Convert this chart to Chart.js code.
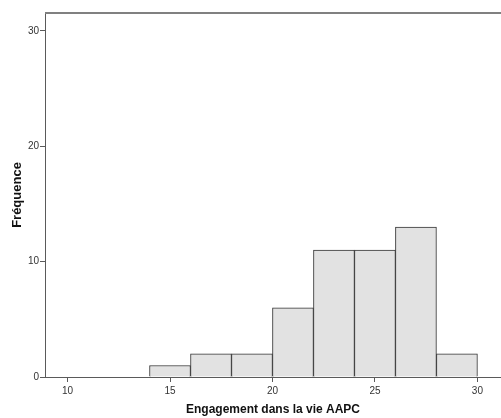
<!DOCTYPE html>
<html>
<head>
<meta charset="utf-8">
<script src="https://cdn.jsdelivr.net/npm/chart.js@4/dist/chart.umd.min.js"></script>
<style>
  html, body { margin: 0; padding: 0; background: #fff; }
  #wrap { width: 501px; height: 418px; }
</style>
</head>
<body>
<div id="wrap"><canvas id="histo" width="501" height="418"></canvas></div>
<script>
// Histogramme : classes de largeur 2
const binCenters = [15, 17, 19, 21, 23, 25, 27, 29];
const frequences = [1, 2, 2, 6, 11, 11, 13, 2];
const xTicks = [10, 15, 20, 25, 30];
const yTicks = [0, 10, 20, 30];

const axisColor = '#5a5a5a';
const textColor = '#333333';

// ligne du haut du cadre (style SPSS)
const cadreHaut = {
    id: 'cadreHaut',
    afterDraw(chart) {
        const { ctx, chartArea } = chart;
        ctx.save();
        ctx.strokeStyle = '#808080';
        ctx.lineWidth = 2;
        ctx.beginPath();
        ctx.moveTo(chartArea.left, chartArea.top);
        ctx.lineTo(chartArea.right, chartArea.top);
        ctx.stroke();
        ctx.restore();
    }
};

new Chart(document.getElementById('histo'), {
    type: 'bar',
    data: {
        datasets: [{
            data: binCenters.map((c, i) => ({ x: c, y: frequences[i] })),
            backgroundColor: '#e2e2e2',
            borderColor: '#333333',
            borderWidth: 1,
            barPercentage: 1,
            categoryPercentage: 1
        }]
    },
    options: {
        responsive: false,
        animation: false,
        layout: { padding: { top: 13, right: 0, left: 0, bottom: 0 } },
        plugins: { legend: { display: false }, tooltip: { enabled: false } },
        scales: {
            x: {
                type: 'linear',
                offset: false,
                min: 8.9,
                max: 31.15,
                afterBuildTicks: s => { s.ticks = xTicks.map(v => ({ value: v })); },
                afterFit: s => { s.height = 41; },
                grid: { drawOnChartArea: false, offset: false, tickLength: 5, color: axisColor },
                border: { color: axisColor, width: 1 },
                ticks: {
                    padding: 3,
                    color: textColor,
                    font: { family: 'Liberation Sans, Arial, sans-serif', size: 10 },
                    maxRotation: 0
                },
                title: {
                    display: true,
                    text: 'Engagement dans la vie AAPC',
                    color: '#111',
                    font: { family: 'Liberation Sans, Arial, sans-serif', size: 12, weight: 'bold' },
                    padding: { top: 0, bottom: 1 }
                }
            },
            y: {
                min: 0,
                max: 31.56,
                afterBuildTicks: s => { s.ticks = yTicks.map(v => ({ value: v })); },
                afterFit: s => { s.width = 45; },
                grid: { drawOnChartArea: false, tickLength: 5, color: axisColor },
                border: { color: axisColor, width: 1 },
                ticks: {
                    padding: 1,
                    color: textColor,
                    font: { family: 'Liberation Sans, Arial, sans-serif', size: 10 }
                },
                title: {
                    display: true,
                    text: 'Fréquence',
                    color: '#111',
                    font: { family: 'Liberation Sans, Arial, sans-serif', size: 13, weight: 'bold' },
                    padding: { top: 10, bottom: 0 }
                }
            }
        }
    },
    plugins: [cadreHaut]
});
</script>
</body>
</html>
